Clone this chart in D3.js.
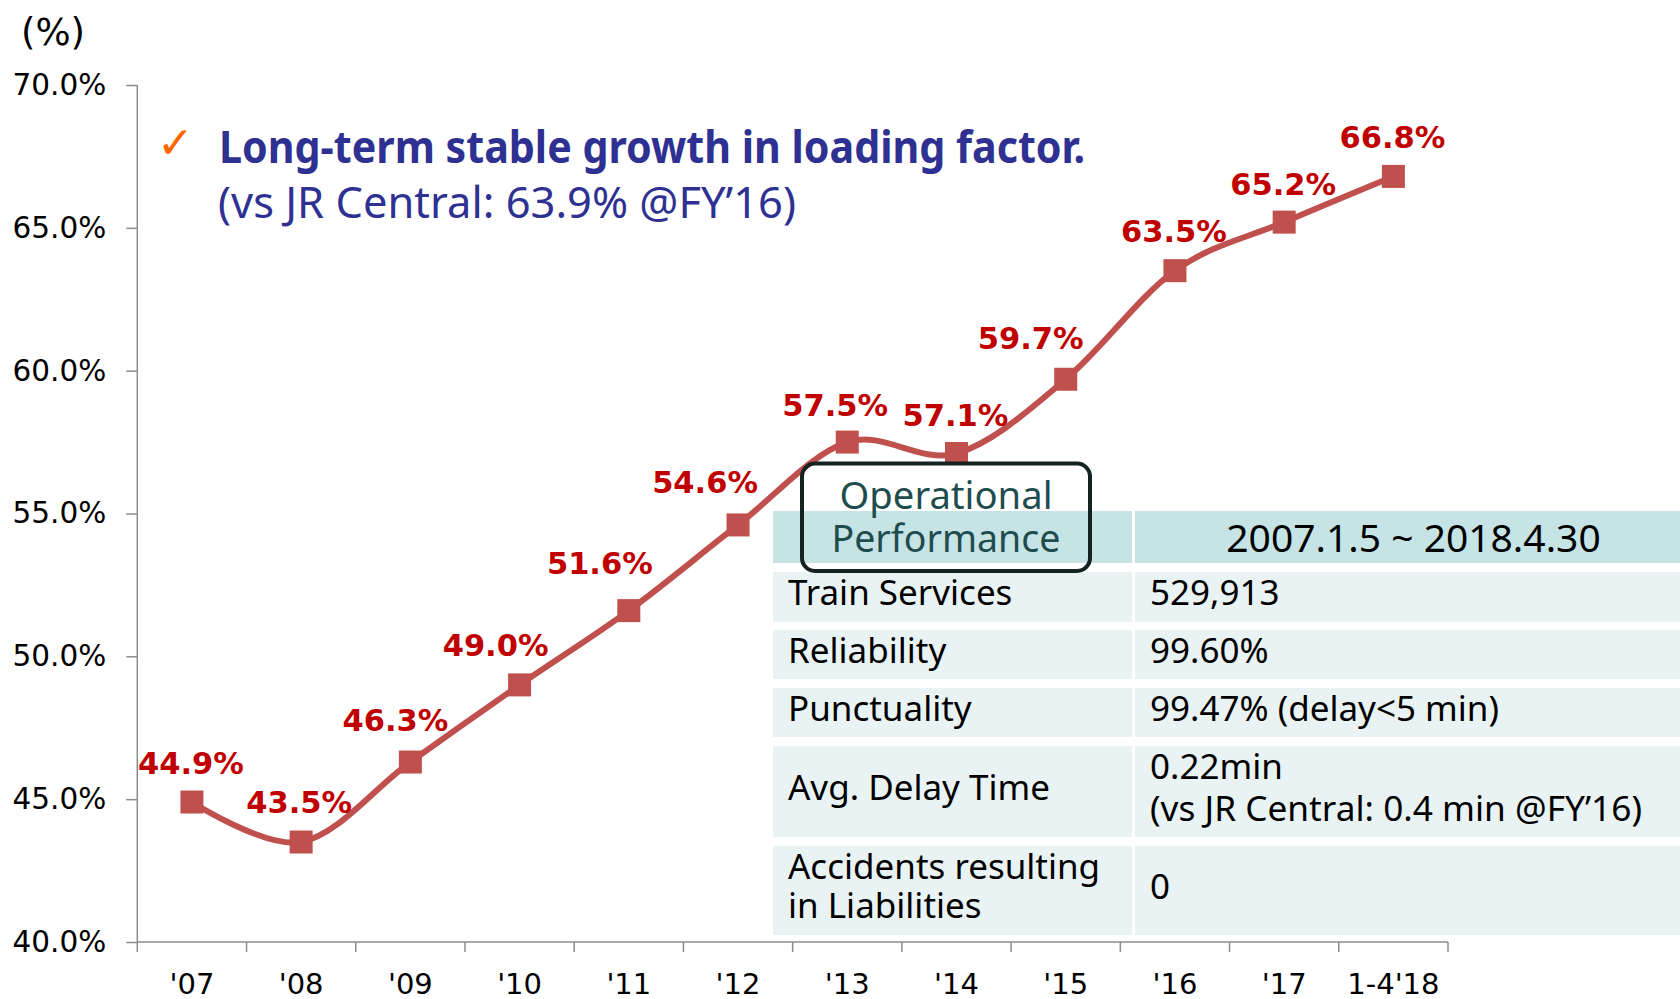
<!DOCTYPE html>
<html>
<head>
<meta charset="utf-8">
<script src="https://cdn.jsdelivr.net/npm/d3@7"></script>
<style>
  html, body { margin: 0; padding: 0; background: #fff; }
  svg { display: block; }
</style>
</head>
<body>
<svg id="chart" width="1680" height="999"></svg>
<script>
// ---- data ----
const categories = ["'07", "'08", "'09", "'10", "'11", "'12", "'13", "'14", "'15", "'16", "'17", "1-4'18"];
const loadFactor = [44.9, 43.5, 46.3, 49.0, 51.6, 54.6, 57.5, 57.1, 59.7, 63.5, 65.2, 66.8];
const yTicks = [40, 45, 50, 55, 60, 65, 70];
const yUnit = "(%)";
const titleLine1 = "Long-term stable growth in loading factor.";
const titleLine2 = "(vs JR Central: 63.9% @FY\u201916)";
const tableTitle = ["Operational", "Performance"];
const tableHeader = "2007.1.5 ~ 2018.4.30";
const tableLabels = [["Train Services"], ["Reliability"], ["Punctuality"], ["Avg. Delay Time"], ["Accidents resulting", "in Liabilities"]];
const tableValues = [["529,913"], ["99.60%"], ["99.47% (delay<5 min)"], ["0.22min", "(vs JR Central: 0.4 min @FY\u201916)"], ["0"]];

// ---- layout (not data) ----
const labelOffsets = [[-1, -28], [-2, -29], [-15, -31], [-24, -29], [-29, -37], [-33, -32], [-12, -26], [-1, -28], [-35, -30], [-1, -29], [-1, -27], [-1, -28]];
const rowTops = [572, 630, 688, 746, 846];
const rowHeights = [50, 49, 49, 91, 89];

const svg = d3.select("#chart");
const plot = { left: 137.3, right: 1448, top: 85, bottom: 942 };

const x = d3.scaleBand().domain(categories).range([plot.left, plot.right]).padding(0);
const y = d3.scaleLinear().domain([40, 70]).range([plot.bottom, plot.top]);

const axisColor = "#8c8c8c";
const tickFont = "'DejaVu Sans', Verdana, sans-serif";

// Y axis
const yAxis = svg.append("g").attr("transform", `translate(${plot.left},0)`)
  .call(d3.axisLeft(y).tickValues(yTicks).tickSize(11).tickPadding(20).tickFormat(d => d3.format(".1f")(d) + "%"));
yAxis.select(".domain").attr("stroke", axisColor).attr("stroke-width", 1.5).attr("d", `M0,${plot.top}V${plot.bottom}`);
yAxis.selectAll(".tick line").attr("stroke", axisColor).attr("stroke-width", 1.5);
yAxis.selectAll(".tick text").attr("font-family", tickFont).attr("font-size", 29.5).attr("fill", "#000");

// X axis (ticks at category boundaries)
const xAxis = svg.append("g").attr("transform", `translate(0,${plot.bottom})`)
  .call(d3.axisBottom(x).tickSize(0).tickPadding(0));
xAxis.select(".domain").attr("stroke", axisColor).attr("stroke-width", 1.5).attr("d", `M${plot.left},0H${plot.right}`);
xAxis.selectAll(".tick text").attr("font-family", tickFont).attr("font-size", 29).attr("fill", "#000").attr("dy", null).attr("y", 52);
const boundaries = categories.map(c => x(c)).concat([x(categories[categories.length - 1]) + x.bandwidth()]);
xAxis.selectAll(".bnd").data(boundaries).enter().append("line")
  .attr("x1", d => d).attr("x2", d => d).attr("y1", 0).attr("y2", 10)
  .attr("stroke", axisColor).attr("stroke-width", 1.5);

// Unit label
svg.append("text").attr("x", 21).attr("y", 45).attr("font-family", tickFont).attr("font-size", 37).attr("fill", "#000").text(yUnit);

// Line
const pts = loadFactor.map((v, i) => [x(categories[i]) + x.bandwidth() / 2, y(v)]);
svg.append("path").datum(pts)
  .attr("d", d3.line().curve(d3.curveCardinal.tension(0)))
  .attr("fill", "none").attr("stroke", "#C0504D").attr("stroke-width", 6).attr("stroke-linejoin", "round");

// Markers
const ms = 23;
svg.selectAll(".mk").data(pts).enter().append("rect")
  .attr("x", d => d[0] - ms / 2).attr("y", d => d[1] - ms / 2)
  .attr("width", ms).attr("height", ms).attr("fill", "#C0504D");

// Data labels
svg.selectAll(".lbl").data(loadFactor).enter().append("text")
  .attr("x", (d, i) => pts[i][0] + labelOffsets[i][0])
  .attr("y", (d, i) => pts[i][1] + labelOffsets[i][1])
  .attr("text-anchor", "middle")
  .attr("font-family", tickFont).attr("font-weight", "bold").attr("font-size", 30.5)
  .attr("fill", "#C00000")
  .text(d => d.toFixed(1) + "%");

// Title
svg.append("text").attr("x", 157).attr("y", 158).attr("font-family", "'DejaVu Sans', sans-serif")
  .attr("font-size", 44).attr("fill", "#FF6600").text("\u2713");
svg.append("text").attr("x", 219).attr("y", 163).attr("font-family", "'Noto Sans', sans-serif")
  .attr("font-weight", "bold").attr("font-size", 44).attr("fill", "#2E3192")
  .attr("textLength", 866).attr("lengthAdjust", "spacingAndGlyphs").text(titleLine1);
svg.append("text").attr("x", 218).attr("y", 218).attr("font-family", "'Noto Sans', sans-serif")
  .attr("font-size", 43).attr("fill", "#2E3192")
  .attr("textLength", 578).attr("lengthAdjust", "spacingAndGlyphs").text(titleLine2);

// Table
const tbl = svg.append("g");
const colL = 773, colDiv = 1132, colR = 1135, tRight = 1680;
const tFont = "'Noto Sans', sans-serif";
// header
tbl.append("rect").attr("x", colL).attr("y", 511).attr("width", colDiv - colL).attr("height", 52).attr("fill", "#C6E4E6");
tbl.append("rect").attr("x", colR).attr("y", 511).attr("width", tRight - colR).attr("height", 52).attr("fill", "#C6E4E6");
tbl.append("text").attr("x", (colR + tRight) / 2 + 6).attr("y", 552).attr("text-anchor", "middle")
  .attr("font-family", tFont).attr("font-size", 39).attr("fill", "#000").text(tableHeader);
// body rows
tableLabels.forEach((lab, i) => {
  const top = rowTops[i], h = rowHeights[i];
  tbl.append("rect").attr("x", colL).attr("y", top).attr("width", colDiv - colL).attr("height", h).attr("fill", "#EAF3F4");
  tbl.append("rect").attr("x", colR).attr("y", top).attr("width", tRight - colR).attr("height", h).attr("fill", "#EAF3F4");
  const cy = top + h / 2 + 8;
  const put = (lines, xx, last) => {
    const n = lines.length;
    const gap = n > 1 ? (i === 3 ? 42 : 39) : 0;
    lines.forEach((t, k) => {
      const el = tbl.append("text").attr("x", xx).attr("y", cy + (k - (n - 1) / 2) * gap)
        .attr("font-family", tFont).attr("font-size", 35).attr("fill", "#000").text(t);
      if (i === 3 && k === 1 && last) el.attr("textLength", 492).attr("lengthAdjust", "spacingAndGlyphs");
    });
  };
  put(lab, 788, false);
  put(tableValues[i], 1150, true);
});

// Operational Performance box
const box = svg.append("g");
box.append("rect").attr("x", 802).attr("y", 463.5).attr("width", 288).attr("height", 107.5)
  .attr("rx", 13).attr("ry", 13).attr("fill", "none").attr("stroke", "#142221").attr("stroke-width", 4);
box.append("text").attr("x", 946).attr("y", 509).attr("text-anchor", "middle")
  .attr("font-family", tFont).attr("font-size", 39).attr("fill", "#1F4D4E")
  .attr("textLength", 213).attr("lengthAdjust", "spacingAndGlyphs").text(tableTitle[0]);
box.append("text").attr("x", 946).attr("y", 552).attr("text-anchor", "middle")
  .attr("font-family", tFont).attr("font-size", 39).attr("fill", "#1F4D4E")
  .attr("textLength", 229).attr("lengthAdjust", "spacingAndGlyphs").text(tableTitle[1]);
</script>
</body>
</html>
